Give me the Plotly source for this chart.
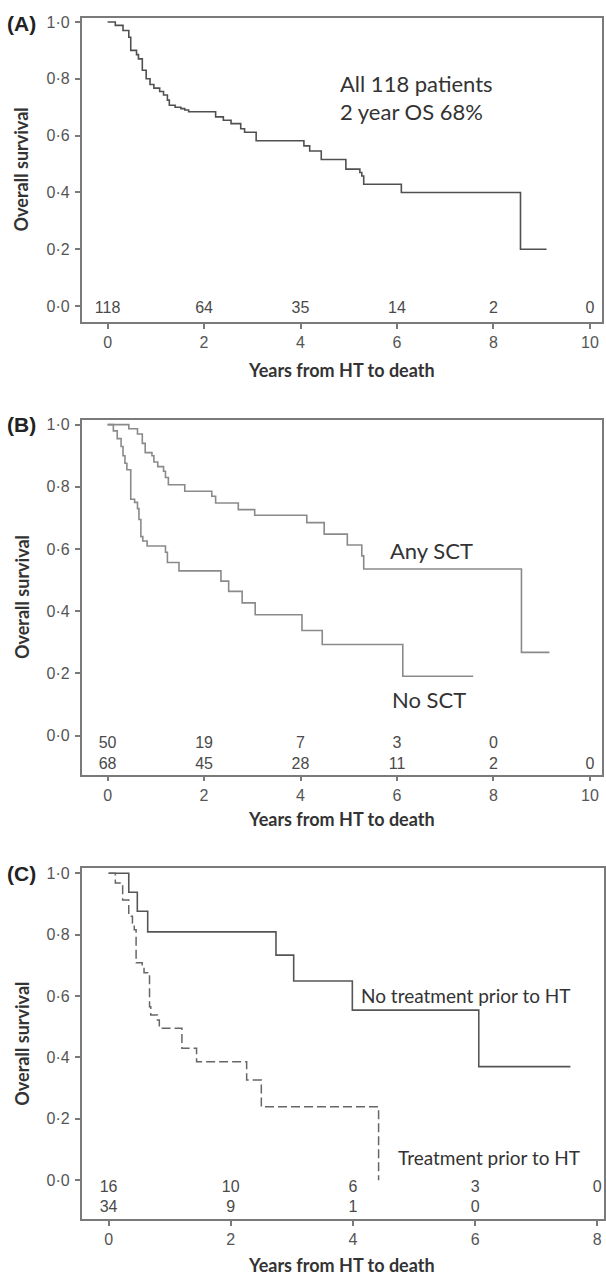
import plotly.graph_objects as go

W, H = 606, 1278

# ---------------- Panel A: all patients ----------------
a_time = [0, 0.16, 0.32, 0.44, 0.48, 0.60, 0.64, 0.72, 0.80, 0.88, 0.96, 1.08, 1.16, 1.24, 1.28,
          1.40, 1.52, 1.60, 1.68, 2.24, 2.40, 2.56, 2.76, 2.84, 3.08, 4.07, 4.19, 4.43, 4.94,
          5.23, 5.27, 5.31, 6.09, 8.56, 9.10]
a_surv = [1.0, 0.988, 0.970, 0.946, 0.900, 0.885, 0.870, 0.830, 0.800, 0.780, 0.767, 0.755, 0.743,
          0.725, 0.707, 0.700, 0.695, 0.690, 0.684, 0.666, 0.654, 0.642, 0.624, 0.612, 0.582,
          0.564, 0.546, 0.516, 0.482, 0.470, 0.458, 0.429, 0.400, 0.200, 0.200]
a_risk_t = [0, 2, 4, 6, 8, 10]
a_risk_n = [118, 64, 35, 14, 2, 0]

# ---------------- Panel B: Any SCT vs No SCT ----------------
b_sct_time = [0, 0.44, 0.62, 0.72, 0.78, 0.92, 0.96, 1.04, 1.16, 1.20, 1.26, 1.60, 2.16, 2.24,
              2.71, 3.05, 4.13, 4.49, 4.97, 5.27, 5.31, 8.58, 9.16]
b_sct_surv = [1.0, 0.987, 0.970, 0.940, 0.910, 0.900, 0.880, 0.865, 0.850, 0.830, 0.807, 0.786,
              0.770, 0.748, 0.727, 0.709, 0.685, 0.648, 0.613, 0.578, 0.536, 0.268, 0.268]
b_no_time = [0, 0.12, 0.20, 0.28, 0.32, 0.36, 0.40, 0.48, 0.56, 0.62, 0.65, 0.69, 0.73, 0.82,
             1.20, 1.24, 1.48, 2.35, 2.51, 2.79, 3.06, 4.03, 4.45, 6.12, 7.58]
b_no_surv = [1.0, 0.980, 0.955, 0.930, 0.900, 0.876, 0.855, 0.760, 0.750, 0.730, 0.695, 0.640,
             0.626, 0.610, 0.590, 0.557, 0.530, 0.497, 0.464, 0.427, 0.389, 0.338, 0.293, 0.191, 0.191]
b_risk1_t = [0, 2, 4, 6, 8]
b_risk1_n = [50, 19, 7, 3, 0]
b_risk2_t = [0, 2, 4, 6, 8, 10]
b_risk2_n = [68, 45, 28, 11, 2, 0]

# ---------------- Panel C: treatment prior to HT ----------------
c_notx_time = [0, 0.33, 0.47, 0.64, 2.74, 3.03, 3.99, 6.06, 7.56]
c_notx_surv = [1.0, 0.938, 0.876, 0.809, 0.733, 0.649, 0.554, 0.370, 0.370]
c_tx_time = [0, 0.11, 0.23, 0.33, 0.39, 0.42, 0.45, 0.55, 0.58, 0.64, 0.67, 0.69, 0.80, 0.83,
             1.20, 1.44, 2.26, 2.50, 4.42]
c_tx_surv = [1.0, 0.968, 0.913, 0.860, 0.838, 0.816, 0.708, 0.697, 0.676, 0.665, 0.565, 0.538,
             0.522, 0.495, 0.430, 0.386, 0.326, 0.239, 0.0]
c_risk1_t = [0, 2, 4, 6, 8]
c_risk1_n = [16, 10, 6, 3, 0]
c_risk2_t = [0, 2, 4, 6]
c_risk2_n = [34, 9, 1, 0]

y_ticks = [0, 0.2, 0.4, 0.6, 0.8, 1.0]
y_ticktext = ["0·0", "0·2", "0·4", "0·6", "0·8", "1·0"]

NUM_FONT = "Liberation Sans, Arial, sans-serif"
TXT_FONT = "Lato, Open Sans, sans-serif"
TICK_COL = "#555555"
FRAME_COL = "#7a7a7a"


def px_x(p):
    return p / W


def px_y(p):
    return 1 - p / H


fig = go.Figure()

# curves
fig.add_trace(go.Scatter(x=a_time, y=a_surv, mode="lines", line=dict(color="#505050", width=1.6, shape="hv"),
                         xaxis="x", yaxis="y", showlegend=False))
fig.add_trace(go.Scatter(x=b_sct_time, y=b_sct_surv, mode="lines", line=dict(color="#8a8a8a", width=1.6, shape="hv"),
                         xaxis="x2", yaxis="y2", showlegend=False))
fig.add_trace(go.Scatter(x=b_no_time, y=b_no_surv, mode="lines", line=dict(color="#8a8a8a", width=1.6, shape="hv"),
                         xaxis="x2", yaxis="y2", showlegend=False))
fig.add_trace(go.Scatter(x=c_notx_time, y=c_notx_surv, mode="lines", line=dict(color="#555555", width=1.6, shape="hv"),
                         xaxis="x3", yaxis="y3", showlegend=False))
fig.add_trace(go.Scatter(x=c_tx_time, y=c_tx_surv, mode="lines",
                         line=dict(color="#666666", width=1.5, shape="hv", dash="9px,4px"),
                         xaxis="x3", yaxis="y3", showlegend=False))

# numbers at risk
risk_font = dict(family=NUM_FONT, size=16, color="#4a4a4a")


def add_risk(t, n, yv, xa, ya):
    fig.add_trace(go.Scatter(x=t, y=[yv] * len(t), mode="text", text=[str(v) for v in n],
                             textposition="middle center", textfont=risk_font,
                             xaxis=xa, yaxis=ya, showlegend=False, hoverinfo="skip"))


add_risk(a_risk_t, a_risk_n, -0.012, "x", "y")
add_risk(b_risk1_t, b_risk1_n, -0.026, "x2", "y2")
add_risk(b_risk2_t, b_risk2_n, -0.093, "x2", "y2")
add_risk(c_risk1_t, c_risk1_n, -0.026, "x3", "y3")
add_risk(c_risk2_t, c_risk2_n, -0.091, "x3", "y3")


def xaxis(rng, tickvals, domain, anchor):
    return dict(domain=domain, range=rng, tickvals=tickvals, ticktext=[str(v) for v in tickvals],
                anchor=anchor, ticks="outside", ticklen=5, tickwidth=1.5, tickcolor=FRAME_COL,
                showline=True, linecolor=FRAME_COL, linewidth=1.6, mirror=True,
                showgrid=False, zeroline=False, ticklabelstandoff=0,
                tickfont=dict(family=NUM_FONT, size=16, color=TICK_COL))


def yaxis(domain, rng, anchor):
    return dict(domain=domain, range=rng, tickvals=y_ticks, ticktext=y_ticktext, anchor=anchor,
                ticks="outside", ticklen=5, tickwidth=1.5, tickcolor=FRAME_COL,
                showline=True, linecolor=FRAME_COL, linewidth=1.6, mirror=True,
                showgrid=False, zeroline=False, ticklabelstandoff=2,
                tickfont=dict(family=NUM_FONT, size=16, color=TICK_COL))


xdom = [px_x(82), px_x(604)]
xdomC = [px_x(82), 1.0]

fig.update_layout(
    width=W, height=H, margin=dict(l=0, r=0, t=0, b=0), autosize=False,
    paper_bgcolor="white", plot_bgcolor="white",
    xaxis=xaxis([-0.536, 10.25], [0, 2, 4, 6, 8, 10], xdom, "y"),
    yaxis=yaxis([px_y(319), px_y(14)], [-0.056, 1.014], "x"),
    xaxis2=xaxis([-0.536, 10.25], [0, 2, 4, 6, 8, 10], xdom, "y2"),
    yaxis2=yaxis([px_y(773), px_y(417)], [-0.125, 1.016], "x2"),
    xaxis3=xaxis([-0.44, 8.11], [0, 2, 4, 6, 8], xdomC, "y3"),
    yaxis3=yaxis([px_y(1219), px_y(867)], [-0.127, 1.016], "x3"),
)

ann = []
lab_font = dict(family=TXT_FONT, size=22, color="#333333")
lab_font_c = dict(family=TXT_FONT, size=19, color="#333333")
title_font = dict(family=TXT_FONT, size=18, color="#333333")

# in-plot labels (data coordinates)
ann.append(dict(x=4.78, y=0.782, xref="x", yref="y", text="All 118 patients", showarrow=False,
                xanchor="left", yanchor="middle", font=lab_font))
ann.append(dict(x=4.78, y=0.684, xref="x", yref="y", text="2 year OS 68%", showarrow=False,
                xanchor="left", yanchor="middle", font=lab_font))
ann.append(dict(x=5.81, y=0.596, xref="x2", yref="y2", text="Any SCT", showarrow=False,
                xanchor="left", yanchor="middle", font=lab_font))
ann.append(dict(x=5.86, y=0.115, xref="x2", yref="y2", text="No SCT", showarrow=False,
                xanchor="left", yanchor="middle", font=lab_font))
ann.append(dict(x=4.10, y=0.60, xref="x3", yref="y3", text="No treatment prior to HT", showarrow=False,
                xanchor="left", yanchor="middle", font=lab_font_c))
ann.append(dict(x=4.70, y=0.075, xref="x3", yref="y3", text="Treatment prior to HT", showarrow=False,
                xanchor="left", yanchor="middle", font=lab_font_c))

# panel letters, axis titles (paper coordinates)
for letter, py in (("(A)", 20), ("(B)", 422), ("(C)", 872)):
    ann.append(dict(x=px_x(22), y=px_y(py), xref="paper", yref="paper", text="<b>%s</b>" % letter,
                    showarrow=False, xanchor="center", yanchor="middle",
                    font=dict(family=NUM_FONT, size=21, color="#222222")))
for py in (166, 595, 1043):
    ann.append(dict(x=px_x(22), y=px_y(py), xref="paper", yref="paper", text="<b>Overall survival</b>",
                    showarrow=False, textangle=-90, xanchor="center", yanchor="middle", font=title_font))
for py in (367, 818, 1265):
    ann.append(dict(x=px_x(343), y=px_y(py), xref="paper", yref="paper", text="<b>Years from HT to death</b>",
                    showarrow=False, xanchor="center", yanchor="middle", font=title_font))

fig.update_layout(annotations=ann)

fig.write_html("out.html", config={"displayModeBar": False},
               post_script="document.body.style.margin='0px';document.body.style.overflow='hidden';")
